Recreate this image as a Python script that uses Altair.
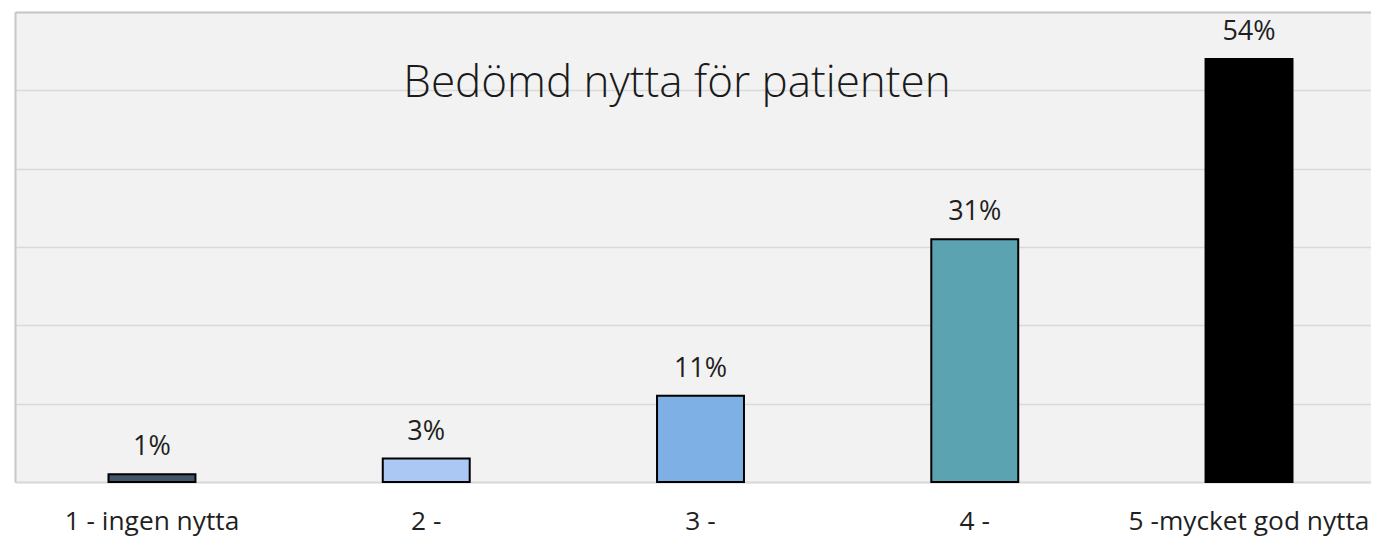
import altair as alt
import pandas as pd

categories = ["1 - ingen nytta", "2 -", "3 -", "4 -", "5 -mycket god nytta"]
values = [1, 3, 11, 31, 54]
labels = ["1%", "3%", "11%", "31%", "54%"]
colors = ["#44546a", "#abc8f4", "#7eb0e6", "#5ba3b0", "#000000"]
title_text = ["Bedömd nytta för patienten"]

df = pd.DataFrame({"cat": categories, "val": values, "lab": labels, "col": colors})
tdf = pd.DataFrame({"t": title_text})

FONT = "Open Sans"

x = alt.X(
    "cat:N",
    sort=categories,
    title=None,
    scale=alt.Scale(paddingInner=0.683, paddingOuter=0.3136, align=0.5436),
    axis=alt.Axis(
        labelAngle=0,
        labelFont=FONT,
        labelFontSize=26.3,
        labelColor="#1f1f1f",
        labelPadding=47,
        labelBaseline="alphabetic",
        ticks=False,
        tickSize=0,
        domain=True,
        domainColor="#d9d9d9",
        domainWidth=2,
        grid=False,
        labelOverlap=False,
        labelLimit=400,
    ),
)

y = alt.Y(
    "val:Q",
    title=None,
    scale=alt.Scale(domain=[0, 60], nice=False),
    axis=alt.Axis(
        values=[0, 10, 20, 30, 40, 50, 60],
        labels=False,
        ticks=False,
        domain=True,
        domainColor="#c8c8c8",
        domainWidth=2,
        grid=True,
        gridColor={"condition": {"test": "datum.value == 60", "value": "#c4c4c4"}, "value": "#d9d9d9"},
        gridWidth={"condition": {"test": "datum.value == 60", "value": 2}, "value": 1.5},
    ),
)

bars = alt.Chart(df).mark_bar(stroke="#000000", strokeWidth=2).encode(
    x=x,
    y=y,
    color=alt.Color("col:N", scale=None, legend=None),
)

text = alt.Chart(df).mark_text(
    font=FONT, fontSize=27, color="#1f1f1f", baseline="alphabetic", dy=-19
).encode(x=alt.X("cat:N", sort=categories), y="val:Q", text="lab:N")

title = alt.Chart(tdf).mark_text(
    font=FONT, fontSize=44, fontWeight=300, color="#1a1a1a", baseline="alphabetic", align="center"
).encode(x=alt.value(662), y=alt.value(85), text="t:N")

chart = (
    alt.layer(bars, text, title)
    .properties(
        width=1356,
        height=470,
        padding={"left": 7, "top": 4, "right": 0, "bottom": 56},
        autosize=alt.AutoSizeParams(type="none"),
        background="#ffffff",
    )
    .configure_view(fill="#f2f2f2", stroke=None)
)

chart.save("out.html", embed_options={"renderer": "svg", "actions": False})
